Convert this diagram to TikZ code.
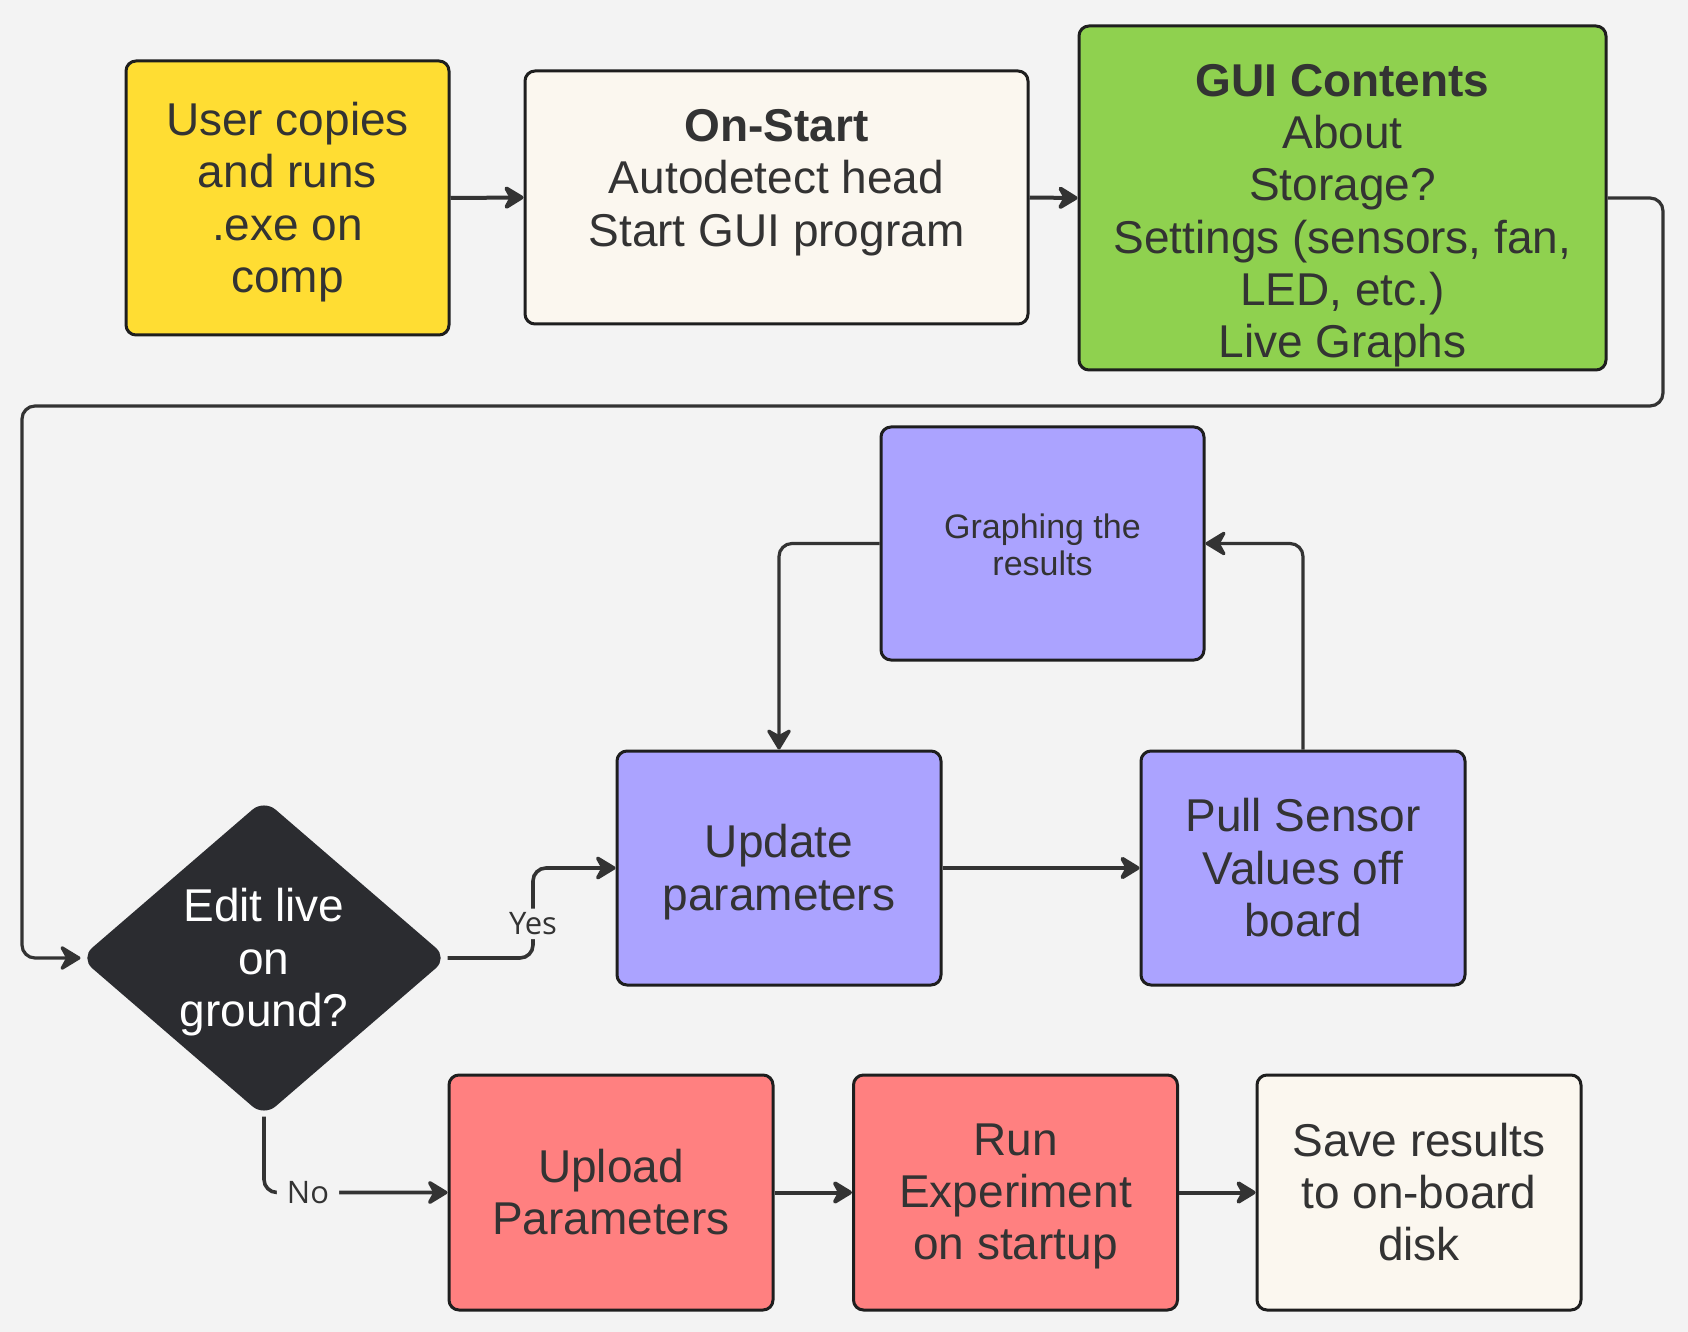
\documentclass[tikz,border=0pt]{standalone}
\usepackage{fontspec}
\setmainfont{Liberation Sans}
\newfontfamily\labelfont{Open Sans}
\usetikzlibrary{arrows.meta,shapes.geometric}
\definecolor{bgc}{HTML}{F3F3F3}
\definecolor{yel}{HTML}{FFDD33}
\definecolor{cream}{HTML}{FBF7EF}
\definecolor{grn}{HTML}{8FD14F}
\definecolor{purp}{HTML}{ABA3FF}
\definecolor{salmon}{HTML}{FF8080}
\definecolor{dia}{HTML}{2B2C30}
\definecolor{bordc}{HTML}{1E1E1E}
\definecolor{linec}{HTML}{333333}
\definecolor{txt}{HTML}{333333}
\begin{document}
\begin{tikzpicture}[x=0.5pt,y=-0.5pt,
  box/.style={draw=bordc, line width=1.5pt, rounded corners=5pt, inner sep=0pt,
    minimum width=162pt, minimum height=117pt},
  tx/.style={text=txt, align=center, font=\fontsize{23}{26.1}\selectfont, yshift=-3.6pt,
    execute at begin node=\strut, execute at end node=\strut},
  conn/.style={draw=linec, line width=2pt, rounded corners=6.5pt,
    -{Stealth[length=12pt,width=14.5pt,inset=4pt,round]}},
  thinconn/.style={conn, line width=1.6pt},
  lbl/.style={fill=bgc, text=txt, font=\labelfont\fontsize{15.5}{18}\selectfont,
    inner xsep=5pt, inner ysep=2pt}]
\useasboundingbox (0,0) rectangle (1688,1332);
\fill[bgc] (0,0) rectangle (1688,1332);

% top row
\node[box, fill=yel, minimum width=161.5pt, minimum height=137pt,
  label={[tx]center:User copies\\and runs\\.exe on\\comp}] (user) at (287.5,198) {};
\node[box, fill=cream, minimum width=251.5pt, minimum height=126.5pt,
  label={[tx, yshift=9.5pt]center:\textbf{On-Start}\\Autodetect head\\Start GUI program}]
  (onstart) at (776.5,197.5) {};
\node[box, fill=grn, minimum width=263.5pt, minimum height=172pt,
  label={[tx, yshift=-6.75pt]center:\textbf{GUI Contents}\\About\\Storage?\\Settings (sensors, fan,\\LED, etc.)\\Live Graphs}]
  (gui) at (1342.5,198) {};

% middle
\node[box, fill=purp, minimum width=161.5pt, minimum height=116.5pt,
  label={[tx, font=\fontsize{17}{18.4}\selectfont, yshift=0.4pt]center:Graphing the\\results}]
  (graph) at (1042.5,543.5) {};
\node[box, fill=purp, label={[tx]center:Update\\parameters}] (update) at (779,868) {};
\node[box, fill=purp, label={[tx]center:Pull Sensor\\Values off\\board}] (pull) at (1303,868) {};

% decision
\node[diamond, draw=dia, fill=dia, line width=1.5pt, rounded corners=7pt,
  minimum width=182pt, minimum height=157pt, inner sep=0pt,
  label={[tx, text=white]center:Edit live\\on\\ground?}]
  (edit) at (264,958) {};

% bottom row
\node[box, fill=salmon, minimum height=117.5pt,
  label={[tx]center:Upload\\Parameters}] (upload) at (611,1192.5) {};
\node[box, fill=salmon, minimum height=117.5pt,
  label={[tx]center:Run\\Experiment\\on startup}] (run) at (1015.5,1192.5) {};
\node[box, fill=cream, minimum height=117.5pt,
  label={[tx]center:Save results\\to on-board\\disk}] (save) at (1419,1192.5) {};

% connectors
\draw[conn] (user.east) -- (onstart.west);
\draw[conn] (onstart.east) -- (gui.west);
\draw[thinconn] (gui.east) -| (1663,406) -| (22,958) -- (edit.west);
\draw[conn, line width=1.8pt] (edit.east) -- (533,958) |- node[pos=0.19, lbl] {Yes} (update.west);
\draw[conn, line width=1.8pt] (edit.south) |- node[pos=0.62, lbl] {No} (upload.west);
\draw[conn] (update.east) -- (pull.west);
\draw[thinconn] (pull.north) |- (graph.east);
\draw[thinconn] (graph.west) -| (update.north);
\draw[conn] (upload.east) -- (run.west);
\draw[conn] (run.east) -- (save.west);
\end{tikzpicture}
\end{document}
